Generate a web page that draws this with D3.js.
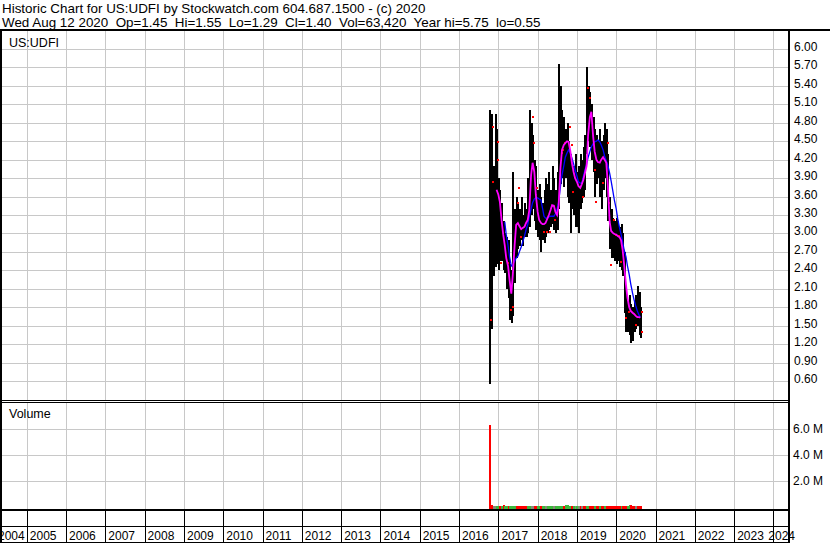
<!DOCTYPE html>
<html><head><meta charset="utf-8">
<script src="https://cdn.jsdelivr.net/npm/d3@7"></script>
<style>
html,body{margin:0;padding:0;background:#fff;}
svg{display:block;}
text{font-family:"Liberation Sans",Arial,sans-serif;fill:#000;}
</style></head><body>
<svg id="c" width="830" height="543"></svg>
<script>
const titleText = "Historic Chart for US:UDFI by Stockwatch.com 604.687.1500 - (c) 2020";
const subtitleText = "Wed Aug 12 2020  Op=1.45  Hi=1.55  Lo=1.29  Cl=1.40  Vol=63,420  Year hi=5.75  lo=0.55";
const symbolText = "US:UDFI";
const volumeText = "Volume";
const yearLabels = ["2004","2005","2006","2007","2008","2009","2010","2011","2012","2013","2014","2015","2016","2017","2018","2019","2020","2021","2022","2023","2024"];
const priceTicks = [6.00,5.70,5.40,5.10,4.80,4.50,4.20,3.90,3.60,3.30,3.00,2.70,2.40,2.10,1.80,1.50,1.20,0.90,0.60];
const volTicks = [6e6,4e6,2e6];
const volTickLabels = ["6.0 M","4.0 M","2.0 M"];

const dates = ["2016-10-15","2016-11-01","2016-11-15","2016-12-01","2016-12-15",
"2017-01-01","2017-01-15","2017-02-01","2017-02-15","2017-03-01","2017-03-15","2017-04-01","2017-04-15","2017-05-01","2017-05-15","2017-06-01","2017-06-15","2017-07-01","2017-07-15","2017-08-01","2017-08-15","2017-09-01","2017-09-15","2017-10-01","2017-10-15","2017-11-01","2017-11-15","2017-12-01","2017-12-15",
"2018-01-01","2018-01-15","2018-02-01","2018-02-15","2018-03-01","2018-03-15","2018-04-01","2018-04-15","2018-05-01","2018-05-15","2018-06-01","2018-06-15","2018-07-01","2018-07-15","2018-08-01","2018-08-15","2018-09-01","2018-09-15","2018-10-01","2018-10-15","2018-11-01","2018-11-15","2018-12-01","2018-12-15",
"2019-01-01","2019-01-15","2019-02-01","2019-02-15","2019-03-01","2019-03-15","2019-04-01","2019-04-15","2019-05-01","2019-05-15","2019-06-01","2019-06-15","2019-07-01","2019-07-15","2019-08-01","2019-08-15","2019-09-01","2019-09-15","2019-10-01","2019-10-15","2019-11-01","2019-11-15","2019-12-01","2019-12-15",
"2020-01-01","2020-01-15","2020-02-01","2020-02-15","2020-03-01","2020-03-15","2020-04-01","2020-04-15","2020-05-01","2020-05-15","2020-06-01","2020-06-15","2020-07-01","2020-07-15","2020-08-01","2020-08-12"];

const high = [5.00,4.95,4.10,4.95,4.70, 3.90,3.70,3.50,3.20,3.00, 2.95,2.90,2.50,2.40,4.00,
3.40,3.60,3.50,3.40,3.60, 3.30,3.50,3.40,3.90,5.00, 4.80,4.60,4.20,4.10,3.70,
3.80,3.60,3.50,3.70,3.90, 3.80,4.00,3.70,4.10,3.90, 3.70,4.00,5.75,5.40,5.00,
4.90,4.70,4.80,4.50,4.30, 4.20,4.10,4.30,4.00,4.10, 4.30,4.20,4.40,4.60,5.70,
5.40,5.30,5.10,4.90,4.70, 4.60,4.50,4.70,4.50,4.60, 4.80,4.70,4.30,3.60,3.40,
3.25,3.20,3.25,3.20,3.10, 3.15,3.00,2.70,2.10,1.90, 2.00,1.85,1.80,1.90,2.00,
2.15,2.05,1.80];
const low = [0.55,1.45,2.30,2.45,2.50, 2.40,2.55,2.55,2.40,2.35, 2.10,1.95,1.60,1.55,1.65,
2.20,2.60,2.75,2.80,2.90, 2.80,2.95,2.95,3.00,3.10, 3.30,3.40,3.20,3.05,2.95,
2.90,2.70,2.90,2.85,2.95, 3.00,3.05,3.10,3.15,3.05, 3.00,3.05,3.40,3.80,3.90,
3.75,3.90,3.60,3.50,3.00, 3.40,3.30,3.10,3.10,3.00, 3.40,3.50,3.60,3.70,4.30,
4.50,4.40,4.20,4.00,3.60, 3.80,3.90,3.60,3.40,3.70, 3.90,3.60,3.20,2.75,2.60,
2.60,2.55,2.50,2.55,2.45, 2.40,2.30,1.70,1.40,1.40, 1.35,1.22,1.25,1.40,1.45,
1.50,1.35,1.30];

const maShort = [null,null,null,null,
3.71,3.63,3.51,3.19,2.98,2.81,2.60,2.47,2.24,2.02,2.33,
2.81,3.14,3.17,3.12,3.07,3.09,3.11,3.17,3.22,3.38,
3.95,4.15,4.00,3.63,3.35,3.22,3.17,3.15,3.15,3.17,
3.24,3.30,3.38,3.46,3.45,3.35,3.30,3.46,4.07,4.36,
4.44,4.47,4.50,4.49,4.34,4.15,4.00,3.90,3.84,3.77,
3.74,3.80,3.87,3.97,4.10,4.60,4.89,4.98,4.57,4.33,
4.20,4.16,4.15,4.20,4.24,4.20,4.15,3.79,3.19,3.04,
3.01,2.99,2.98,2.96,2.94,2.89,2.73,2.49,2.16,1.95,
1.80,1.74,1.71,1.69,1.66,1.64,1.64,1.63];
const maLong = [null,null,null,null,null,null,null,null,null,
3.19,2.98,2.80,2.62,2.47,2.49,
2.55,2.60,2.63,2.70,2.78,2.86,2.96,3.06,3.15,3.27,
3.40,3.50,3.56,3.58,3.58,3.56,3.54,3.41,3.28,3.25,
3.25,3.27,3.28,3.28,3.28,3.32,3.40,3.51,3.77,3.95,
4.10,4.24,4.31,4.36,4.31,4.23,4.13,4.03,3.93,3.84,
3.82,3.82,3.92,4.02,4.13,4.24,4.33,4.41,4.46,4.49,
4.50,4.52,4.49,4.44,4.36,4.26,4.18,4.11,3.98,3.85,
3.69,3.54,3.40,3.24,3.09,2.99,2.86,2.73,2.62,2.47,
2.33,2.18,2.03,1.92,1.82,1.74,1.67,1.64];

const redMarkDates = ["2016-11-01","2016-10-15","2016-11-01","2016-12-15","2016-12-15","2017-01-15","2017-03-15","2017-04-15","2017-05-01","2017-06-15","2017-07-01","2017-07-15","2017-11-01","2017-11-15","2017-12-15","2018-02-15","2018-03-15","2018-04-15","2018-06-01","2018-08-01","2018-09-01","2018-08-15","2018-10-15","2018-11-01","2018-11-15","2019-02-15","2019-04-01","2019-04-15","2019-06-01","2019-06-15","2019-08-15","2019-10-01","2019-10-15","2019-12-01","2019-12-15","2020-01-15","2020-02-01","2019-11-01","2020-03-15","2020-04-15","2020-06-15","2020-08-12","2020-08-12"];
const redMarkPrices = [4.73,1.59,3.84,4.49,4.20,2.52,2.52,1.76,1.80,3.50,3.74,2.94,4.90,4.47,3.74,3.02,3.02,3.02,3.22,4.31,4.47,4.36,4.73,4.44,3.67,3.59,5.37,5.20,4.03,3.51,3.82,4.47,3.49,3.22,2.98,2.96,2.54,2.49,1.63,1.72,1.51,1.72,1.40];

const volDates = ["2016-10-06"].concat(dates);
const volume = [1850000,6300000,120000,60000,50000,40000,30000,30000,40000,80000,
30000,25000,30000,25000,20000,30000,25000,40000,35000,30000,
35000,30000,30000,25000,30000,40000,60000,70000,60000,40000,
20000,20000,25000,20000,30000,40000,30000,20000,25000,20000,
40000,30000,30000,40000,50000,30000,30000,140000,120000,40000,
30000,40000,30000,50000,40000,60000,60000,50000,40000,50000,
30000,30000,30000,25000,20000,20000,25000,20000,20000,25000,
20000,20000,25000,30000,30000,25000,20000,25000,20000,25000,
20000,25000,40000,50000,40000,30000,120000,100000,60000,30000,
40000,30000,30000,60000];
const volDir = [1,-1,-1,0,0,1,1,-1,1,-1,
1,1,-1,1,1,1,1,-1,-1,-1,
-1,-1,-1,-1,1,1,0,0,-1,-1,
1,1,-1,1,1,0,1,1,1,1,
0,1,1,1,1,1,-1,1,1,1,
1,-1,1,0,1,0,-1,0,-1,-1,
1,1,-1,-1,-1,1,-1,-1,1,-1,
-1,1,-1,-1,-1,-1,-1,-1,-1,-1,
-1,1,-1,-1,-1,1,1,-1,-1,-1,
0,-1,-1,-1];

// ---------- drawing ----------
const svg = d3.select("#c");
const parse = d3.timeParse("%Y-%m-%d");
const PL = 2, PR = 788, PT = 31, PB = 400, VT = 403, VB = 509;
const gridColor = "#c8c8c8";

const x = d3.scaleTime().domain([new Date(2005,0,1), new Date(2024,0,1)]).range([26.8, 773.4]);
const y = d3.scaleLinear().domain([0.6, 6.0]).range([381, 49]);
const vy = d3.scaleLinear().domain([0, 8e6]).range([506.5, 402.5]);

svg.append("rect").attr("width",830).attr("height",543).attr("fill","#fff");

const yearDates = yearLabels.map(s => new Date(+s,0,1));
const yearX = yearDates.map(d => Math.round(x(d)));

const grid = svg.append("g").attr("shape-rendering","crispEdges").attr("stroke",gridColor).attr("stroke-width",1);
// price grid
priceTicks.forEach(v => {
  const yy = Math.round(y(v)) + 0.5;
  grid.append("line").attr("x1",PL).attr("x2",PR).attr("y1",yy).attr("y2",yy);
});
yearX.forEach(xx => {
  if (xx <= PL || xx >= PR) return;
  grid.append("line").attr("x1",xx+0.5).attr("x2",xx+0.5).attr("y1",PT).attr("y2",PB);
  grid.append("line").attr("x1",xx+0.5).attr("x2",xx+0.5).attr("y1",VT).attr("y2",VB);
});
volTicks.forEach(v => {
  const yy = Math.round(vy(v)) + 0.5;
  grid.append("line").attr("x1",PL).attr("x2",PR).attr("y1",yy).attr("y2",yy);
});

// price bars
const bars = svg.append("g").attr("shape-rendering","crispEdges");
dates.forEach((d,i) => {
  const xx = Math.floor(x(parse(d)));
  const y1 = y(high[i]), y2 = y(low[i]);
  bars.append("rect").attr("x",xx).attr("width",2).attr("y",y1).attr("height",Math.max(1,y2-y1)).attr("fill","#000");
});

// red marks
const rm = svg.append("g").attr("shape-rendering","crispEdges");
redMarkDates.forEach((d,i) => {
  const xx = Math.floor(x(parse(d))) + 1;
  rm.append("rect").attr("x",xx).attr("y",Math.round(y(redMarkPrices[i]))-1).attr("width",2).attr("height",2).attr("fill","#ff0000");
});

// moving averages
const lineGen = d3.line().defined(d => d.v != null).x(d => x(d.d)).y(d => y(d.v));
svg.append("path").datum(dates.map((d,i)=>({d:parse(d),v:maLong[i]})))
  .attr("d",lineGen).attr("fill","none").attr("stroke","#0000ff").attr("stroke-width",1.3);
svg.append("path").datum(dates.map((d,i)=>({d:parse(d),v:maShort[i]})))
  .attr("d",lineGen).attr("fill","none").attr("stroke","#ff00ff").attr("stroke-width",1.8);

// volume bars
const vcol = {"1":"#3cb83c","-1":"#ff0000","0":"#888878"};
const vb = svg.append("g").attr("shape-rendering","crispEdges");
volDates.forEach((d,i) => {
  const xx = Math.floor(x(parse(d)));
  const top = Math.min(vy(volume[i]), 507.5);
  vb.append("rect").attr("x",xx).attr("width",2).attr("y",top).attr("height",VB-top).attr("fill",vcol[String(volDir[i])]);
});

// frame
const fr = svg.append("g").attr("shape-rendering","crispEdges").attr("fill","#000");
fr.append("rect").attr("x",0).attr("y",29).attr("width",830).attr("height",2);
fr.append("rect").attr("x",0).attr("y",29).attr("width",2).attr("height",514);
fr.append("rect").attr("x",0).attr("y",400).attr("width",PR).attr("height",1);
fr.append("rect").attr("x",0).attr("y",402).attr("width",PR).attr("height",1);
fr.append("rect").attr("x",0).attr("y",509).attr("width",PR).attr("height",2);
fr.append("rect").attr("x",0).attr("y",526).attr("width",PR).attr("height",1);
fr.append("rect").attr("x",0).attr("y",542).attr("width",PR).attr("height",1);
yearX.forEach(xx => {
  if (xx <= PL || xx >= PR) return;
  fr.append("rect").attr("x",xx).attr("y",510).attr("width",1).attr("height",33);
});

// year labels
const yl = svg.append("g").attr("font-size","12px");
yearLabels.forEach((s,i) => {
  const t = yl.append("text").attr("y",540).text(s);
  const w = t.node().getComputedTextLength();
  let xx = x(yearDates[i]) + 3;
  xx = Math.max(xx, -2);
  xx = Math.min(xx, 795 - w);
  t.attr("x", xx);
});

fr.append("rect").attr("x",PR).attr("y",29).attr("width",2).attr("height",514);

// price axis labels
const pl = svg.append("g").attr("font-size","12px");
priceTicks.forEach(v => {
  pl.append("text").attr("x",794).attr("y",Math.round(y(v)) - 2).attr("dy","0.35em").text(v.toFixed(2));
});
// volume axis labels
volTicks.forEach((v,i) => {
  pl.append("text").attr("x",793).attr("y",Math.round(vy(v))).attr("dy","0.35em").text(volTickLabels[i]);
});

// header
const h1 = svg.append("text").attr("x",2).attr("y",12.5).attr("font-size","13px").text(titleText);
const w1 = h1.node().getComputedTextLength();
const fs = 13 * 424 / w1;
h1.attr("font-size", fs + "px");
svg.append("text").attr("x",2).attr("y",26.5).attr("font-size", fs + "px").style("white-space","pre").text(subtitleText);

svg.append("text").attr("x",9).attr("y",46.5).attr("font-size","12.5px").text(symbolText);
svg.append("text").attr("x",9).attr("y",418).attr("font-size","12.5px").text(volumeText);
</script>
</body></html>
